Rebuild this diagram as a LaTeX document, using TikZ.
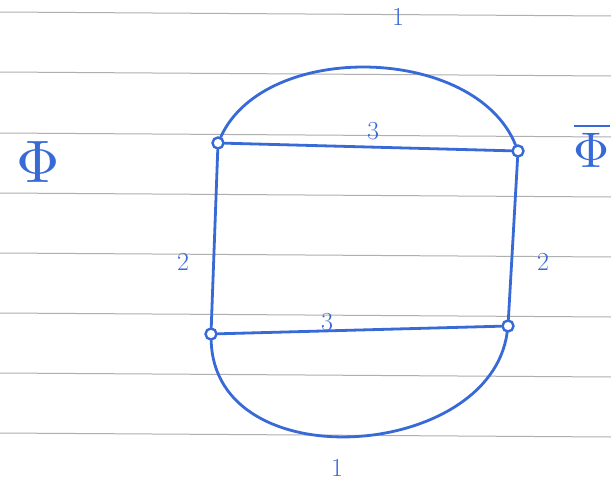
\documentclass[tikz,border=0pt]{standalone}
\usepackage{amsmath}
\usepackage{graphicx}
\definecolor{ink}{RGB}{55,105,215}
\definecolor{rule}{RGB}{175,175,175}
\begin{document}
\begin{tikzpicture}[x=1pt,y=-1pt,
  vtx/.style={circle,draw=ink,line width=2.4pt,inner sep=0pt,minimum size=11pt},
  edge/.style={draw=ink,line width=2.8pt,line cap=round},
  lbl/.style={text=ink,font=\fontsize{26}{28}\selectfont},
  sym/.style={text=ink,inner sep=0pt},
  ruled/.style={draw=rule,line width=1pt}]
\useasboundingbox[fill=white] (0,0) rectangle (611,490);
% ruled paper
\foreach \y in {12,72,133,193,253,313,373,433}
  \draw[ruled] (0,\y) -- (611,\y+4);
% vertices
\node[vtx] (tl) at (218,143) {};
\node[vtx] (tr) at (518,151) {};
\node[vtx] (bl) at (211,334) {};
\node[vtx] (br) at (508,326) {};
% edges
\draw[edge] (tl) -- (tr);
\draw[edge] (bl) -- (br);
\draw[edge] (tl) -- (bl);
\draw[edge] (tr) -- (br);
\draw[edge] (tl) .. controls (265,40) and (475,45) .. (tr);
\draw[edge] (bl) .. controls (215,480) and (490,460) .. (br);
% labels
\node[lbl] (l1t) at (398,17) {1};
\node[lbl] (l3t) at (373,131) {3};
\node[lbl] (l2l) at (183,262) {2};
\node[lbl] (l2r) at (543,262) {2};
\node[lbl] (l3b) at (327,322) {3};
\node[lbl] (l1b) at (337,468) {1};
\node[sym] (phi) at (38,162) {\scalebox{6}{$\Phi$}};
\node[sym] (phibar) at (592,145) {\scalebox{5}{$\overline{\Phi}$}};
\end{tikzpicture}
\end{document}
